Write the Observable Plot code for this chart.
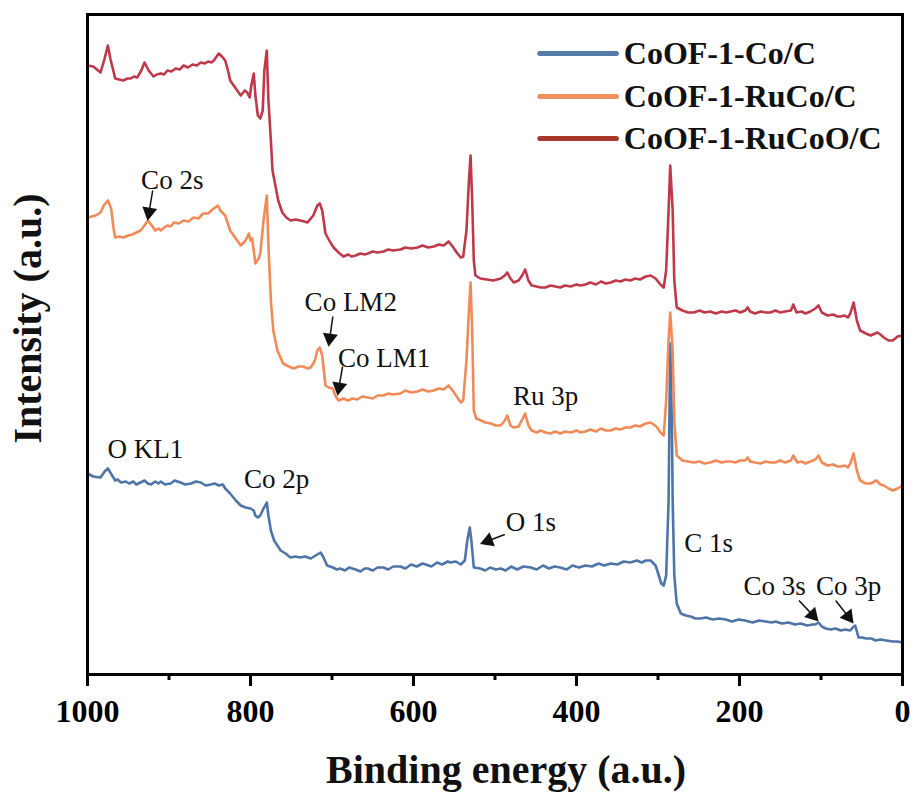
<!DOCTYPE html>
<html>
<head>
<meta charset="utf-8">
<script src="https://cdn.jsdelivr.net/npm/d3@7"></script>
<script src="https://cdn.jsdelivr.net/npm/@observablehq/plot@0.6"></script>
<style>
  html, body { margin: 0; padding: 0; background: #fff; }
  #chart { width: 917px; height: 796px; }
</style>
</head>
<body>
<div id="chart"></div>
<script>
// ---- Data: [binding energy (eV), intensity (a.u.)] ----
const seriesNames = ["CoOF-1-Co/C", "CoOF-1-RuCo/C", "CoOF-1-RuCoO/C"];

const coC = [
  [1000,201],[993,198],[984,197],[979,203],[975,206],[972,202],[966,194],[963,195],[959,192],[953,193],
  [949,191],[944,193],[940,190],[935,192],[930,194],[926,191],[922,190],[917,193],[913,191],[910,193],
  [905,190],[898,191],[893,194],[886,192],[880,190],[873,191],[867,193],[861,192],[855,189],[849,190],
  [844,191],[839,189],[834,190],[831,186],[825,181],[818,174],[812,169],[806,167],[800,166],[796,164],
  [794,159],[791,157],[788,159],[784,166],[780,172],[778,159],[775,144],[771,134],[767,129],[763,124],
  [757,121],[751,117],[745,118],[739,117],[733,118],[726,116],[720,119],[714,122],[711,118],[706,109],
  [699,107],[694,105],[690,106],[684,104],[679,107],[671,105],[665,103],[660,106],[656,106],[650,104],
  [644,107],[637,107],[631,105],[625,108],[616,108],[610,106],[603,110],[596,108],[589,111],[585,110],
  [578,108],[571,112],[565,110],[558,113],[555,112],[548,113],[542,110],[537,114],[534,134],[531,147],
  [529,134],[526,107],[518,106],[512,104],[506,107],[499,105],[493,106],[487,104],[480,108],[473,105],
  [465,108],[456,107],[449,105],[441,109],[434,106],[427,108],[420,107],[412,105],[405,109],[397,107],
  [389,109],[381,108],[373,111],[366,109],[358,111],[350,110],[342,113],[334,112],[326,114],[320,112],
  [315,114],[309,114],[303,109],[299,99],[296,91],[293,89],[290,99],[287,174],[286,254],[285,331],
  [283,254],[282,174],[280,99],[277,71],[272,61],[266,59],[260,58],[254,56],[248,56],[241,57],
  [233,55],[225,56],[217,55],[209,53],[201,55],[193,54],[184,52],[176,54],[168,53],[160,52],
  [156,53],[148,51],[140,52],[132,50],[125,51],[117,49],[110,50],[107,50],[103,52],[99,48],
  [94,46],[88,45],[82,46],[76,44],[70,45],[64,44],[60,48],[58,49],[54,37],[50,37],
  [45,36],[38,36],[33,34],[27,35],[20,34],[12,33],[6,33],[0,32]
];

const ruCoC = [
  [1000,457],[995,458],[990,459],[984,462],[980,469],[975,474],[971,466],[968,446],[966,437],[961,438],
  [956,437],[950,439],[945,440],[940,442],[935,444],[930,449],[926,454],[921,449],[917,444],[913,446],
  [910,444],[906,447],[902,449],[898,448],[894,452],[888,451],[882,454],[876,453],[870,457],[864,456],
  [858,461],[852,461],[848,464],[845,466],[840,469],[837,464],[831,459],[825,444],[818,436],[812,429],
  [806,434],[802,441],[800,434],[798,436],[794,411],[790,416],[788,421],[784,454],[780,479],[778,429],
  [775,374],[772,344],[767,324],[760,311],[753,308],[747,306],[741,308],[735,308],[730,306],[726,307],
  [721,314],[718,324],[715,327],[712,319],[708,289],[704,287],[699,286],[696,279],[692,274],[686,276],
  [680,274],[675,276],[669,275],[663,278],[656,277],[650,276],[644,279],[637,279],[631,281],[625,280],
  [616,281],[610,284],[603,282],[595,283],[589,285],[582,283],[575,284],[569,286],[563,285],[557,289],
  [552,284],[547,278],[542,272],[539,274],[535,314],[532,364],[530,392],[528,344],[526,264],[523,256],
  [517,254],[512,252],[505,251],[499,249],[493,249],[488,254],[485,259],[481,249],[477,247],[471,248],
  [466,256],[463,261],[459,249],[455,244],[449,242],[444,244],[438,242],[432,241],[426,243],[420,241],
  [414,243],[407,242],[400,244],[395,242],[389,243],[383,245],[376,243],[370,246],[364,244],[358,244],
  [352,246],[346,245],[340,247],[334,247],[328,249],[322,248],[315,251],[309,252],[302,248],[297,242],
  [293,239],[290,274],[287,334],[285,362],[282,324],[280,254],[277,219],[270,214],[263,213],[256,212],
  [249,213],[243,211],[236,212],[229,214],[222,212],[216,213],[211,213],[205,212],[199,214],[193,214],
  [190,217],[187,213],[181,212],[174,211],[168,213],[162,212],[156,212],[150,214],[144,212],[137,214],
  [134,219],[129,212],[124,213],[119,211],[113,213],[107,215],[103,219],[99,212],[92,209],[85,210],
  [80,208],[76,208],[71,209],[67,207],[64,211],[60,221],[56,204],[52,194],[45,191],[39,191],
  [32,194],[27,190],[23,189],[17,186],[12,184],[6,186],[0,189]
];

const ruCoOC = [
  [1000,609],[993,608],[984,602],[979,616],[975,629],[972,616],[966,596],[961,595],[956,594],[951,596],
  [947,596],[943,598],[939,597],[934,604],[930,612],[925,604],[919,598],[915,600],[910,601],[906,600],
  [902,604],[897,603],[892,606],[887,605],[882,609],[877,607],[871,610],[866,609],[861,612],[856,611],
  [852,613],[848,612],[845,614],[839,621],[834,617],[831,614],[827,602],[825,594],[818,586],[812,579],
  [807,584],[804,582],[801,577],[799,589],[796,601],[794,579],[791,559],[788,556],[785,564],[783,604],
  [780,624],[778,574],[775,534],[773,504],[769,487],[766,474],[761,462],[756,457],[751,454],[745,455],
  [739,454],[734,453],[730,452],[723,459],[718,469],[715,471],[712,464],[708,441],[702,432],[698,427],
  [692,422],[686,418],[680,420],[676,418],[671,419],[665,421],[660,420],[656,421],[650,423],[644,422],
  [637,423],[631,425],[625,424],[616,425],[610,427],[603,426],[595,427],[589,429],[582,427],[575,428],
  [569,430],[563,429],[557,433],[552,428],[547,422],[542,417],[539,418],[535,444],[532,494],[530,519],
  [528,474],[526,414],[524,399],[518,396],[510,395],[502,394],[493,396],[488,399],[485,402],[481,396],
  [477,392],[471,394],[466,400],[463,405],[459,394],[455,389],[449,388],[444,387],[438,387],[432,389],
  [426,388],[420,387],[414,389],[407,388],[400,390],[395,389],[389,390],[383,392],[376,390],[370,393],
  [364,391],[358,392],[352,394],[346,393],[340,395],[334,394],[328,396],[322,395],[315,398],[309,399],
  [303,396],[297,390],[293,387],[290,404],[287,464],[285,509],[282,464],[280,394],[277,367],[270,364],
  [263,362],[256,362],[249,364],[243,362],[236,363],[229,361],[222,363],[216,362],[211,363],[205,364],
  [199,362],[193,364],[190,367],[187,363],[181,361],[174,363],[168,362],[162,362],[156,364],[150,362],
  [144,363],[137,364],[134,370],[130,362],[124,363],[119,361],[113,363],[107,366],[103,369],[99,362],
  [92,359],[85,360],[80,358],[76,358],[71,359],[67,357],[64,361],[60,372],[56,354],[52,344],
  [45,341],[39,339],[31,342],[27,340],[23,337],[17,334],[12,334],[6,338],[0,339]
];

const majorTicks = [1000, 800, 600, 400, 200, 0];
const minorTicks = [900, 700, 500, 300, 100];

// Peak annotations: label and its anchor (binding energy, intensity)
const labels = [
  {text: "Co 2s",  be: 896, i: 494},
  {text: "Co LM2", be: 677, i: 372},
  {text: "Co LM1", be: 636, i: 316},
  {text: "O KL1",  be: 929, i: 225},
  {text: "Co 2p",  be: 768, i: 195},
  {text: "Ru 3p",  be: 438, i: 278},
  {text: "O 1s",   be: 456, i: 152},
  {text: "C 1s",   be: 238, i: 131},
  {text: "Co 3s",  be: 157, i: 88},
  {text: "Co 3p",  be: 66,  i: 88}
];
// Arrows: tail -> tip
const arrows = [
  {be1: 920, i1: 484, be2: 926, i2: 455},
  {be1: 699, i1: 358, be2: 704, i2: 329},
  {be1: 687, i1: 308, be2: 693, i2: 280},
  {be1: 488, i1: 140, be2: 517, i2: 131},
  {be1: 127, i1: 74,  be2: 104, i2: 54},
  {be1: 82,  i1: 74,  be2: 61,  i2: 52}
];

// legend rows (in data units inside the frame)
const legendRows = [
  {name: seriesNames[0], i: 621},
  {name: seriesNames[1], i: 578},
  {name: seriesNames[2], i: 536}
];

// ---- Layout / style ----
const W = 917, H = 796, ML = 87, MR = 15, MT = 14, MB = 122;
const curveColors = ["#4f74a8", "#f08b58", "#c0394b"];
const legendColors = ["#557aa8", "#f0905c", "#a8382c"];
const xDomain = [1000, 0], yDomain = [0, 660];

const X = Plot.scale({x: {domain: xDomain, range: [ML, W - MR]}});
const Y = Plot.scale({y: {domain: yDomain, range: [H - MB, MT]}});

// arrow heads: compute rotation and centroid in pixel space via scales
const headBack = 7.5;
const heads = arrows.map(a => {
  const x1 = X.apply(a.be1), y1 = Y.apply(a.i1), x2 = X.apply(a.be2), y2 = Y.apply(a.i2);
  const L = Math.hypot(x2 - x1, y2 - y1);
  const ux = (x2 - x1) / L, uy = (y2 - y1) / L;
  const ang = Math.atan2(uy, ux) * 180 / Math.PI;
  const cx = x2 - ux * headBack, cy = y2 - uy * headBack;
  return {be: X.invert(cx), i: Y.invert(cy), rot: ang + 90,
          lbe: X.invert(x2 - ux * headBack * 1.3), li: Y.invert(y2 - uy * headBack * 1.3)};
});
const shafts = arrows.map((a, k) => ({be1: a.be1, i1: a.i1, be2: heads[k].lbe, i2: heads[k].li}));

const toRows = arr => arr.map(([be, i]) => ({be, i}));

const plot = Plot.plot({
  width: W,
  height: H,
  marginLeft: ML, marginRight: MR, marginTop: MT, marginBottom: MB,
  style: {fontFamily: "'Liberation Serif', 'Times New Roman', serif", background: "#fff", color: "#000", overflow: "visible"},
  x: {domain: xDomain, axis: null},
  y: {domain: yDomain, axis: null},
  marks: [
    Plot.line(toRows(coC),    {x: "be", y: "i", stroke: curveColors[0], strokeWidth: 2.6, strokeLinejoin: "round"}),
    Plot.line(toRows(ruCoC),  {x: "be", y: "i", stroke: curveColors[1], strokeWidth: 2.6, strokeLinejoin: "round"}),
    Plot.line(toRows(ruCoOC), {x: "be", y: "i", stroke: curveColors[2], strokeWidth: 2.6, strokeLinejoin: "round"}),
    Plot.frame({stroke: "#000", strokeWidth: 3}),
    Plot.axisX({ticks: majorTicks, tickSize: 12, tickPadding: 13, strokeWidth: 3, fontSize: 32, fontWeight: "bold", label: null, tickFormat: d => String(d)}),
    Plot.axisX({ticks: minorTicks, tickSize: 6, strokeWidth: 3, text: null, label: null}),
    // legend
    Plot.link(legendRows, {x1: 445, x2: 351, y1: "i", y2: "i", stroke: (d, k) => legendColors[k], strokeWidth: 5, strokeLinecap: "round"}),
    Plot.text(legendRows, {x: 342, y: "i", text: "name", textAnchor: "start", lineAnchor: "middle", fontSize: 32, fontWeight: "bold", fill: "#111"}),
    // annotations
    Plot.text(labels, {x: "be", y: "i", text: "text", fontSize: 27, fill: "#111", lineAnchor: "middle"}),
    Plot.link(shafts, {x1: "be1", y1: "i1", x2: "be2", y2: "i2", stroke: "#111", strokeWidth: 1.5}),
    Plot.dot(heads, {x: "be", y: "i", symbol: "triangle", r: 5.6, fill: "#111", stroke: "none", rotate: "rot"}),
    // axis titles
    Plot.text(["Binding energy (a.u.)"], {frameAnchor: "bottom", dx: 11, dy: 108, textAnchor: "middle", lineAnchor: "bottom", fontSize: 40, fontWeight: "bold", fill: "#111"}),
    Plot.text(["Intensity (a.u.)"], {frameAnchor: "left", dx: -59, dy: -26, rotate: -90, textAnchor: "middle", lineAnchor: "middle", fontSize: 40, fontWeight: "bold", fill: "#111"})
  ]
});

document.getElementById("chart").appendChild(plot);
</script>
</body>
</html>
